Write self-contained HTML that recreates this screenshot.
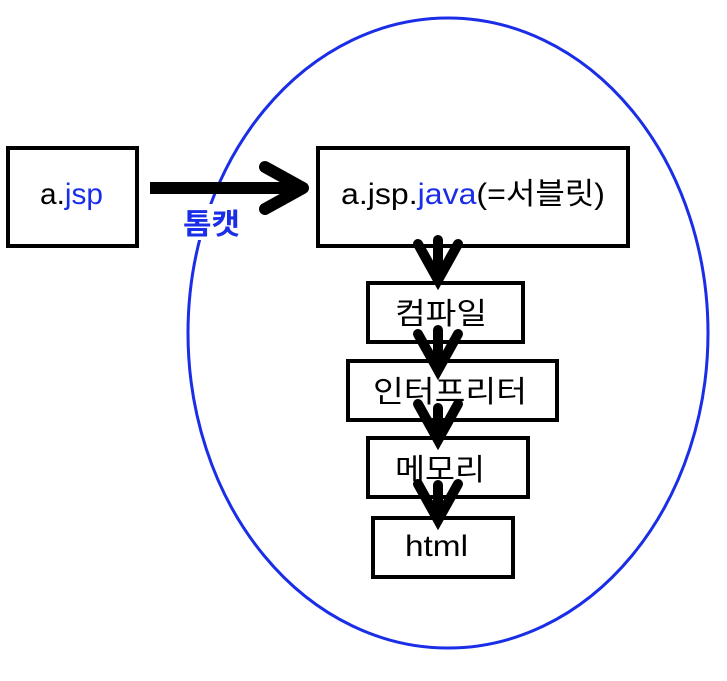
<!DOCTYPE html>
<html><head><meta charset="utf-8"><style>
body{margin:0;background:#fff;width:727px;height:676px;overflow:hidden}
svg text{font-family:"Liberation Sans","Noto Sans CJK KR",sans-serif}
</style></head><body>
<svg width="727" height="676" viewBox="0 0 727 676" xmlns="http://www.w3.org/2000/svg">
<ellipse cx="448" cy="333" rx="260" ry="315" fill="none" stroke="#1a2ee8" stroke-width="3"/>
<rect x="180" y="204" width="64" height="36" fill="#fff"/>
<text x="183" y="234" font-size="29" font-weight="bold" fill="#1a2ee8" textLength="57" lengthAdjust="spacingAndGlyphs">톰캣</text>
<g stroke="#000" stroke-width="4" fill="#fff">
<rect x="8" y="148" width="129" height="98"/>
<rect x="318" y="148" width="310" height="98"/>
<rect x="368" y="283" width="155" height="59"/>
<rect x="348" y="361" width="209" height="59"/>
<rect x="368" y="438" width="160" height="59"/>
<rect x="373" y="518" width="140" height="59"/>
</g>
<g font-size="30" fill="#000">
<text x="40" y="204" textLength="63" lengthAdjust="spacingAndGlyphs">a.<tspan fill="#1a2ee8">jsp</tspan></text>
<text x="341" y="204" textLength="264" lengthAdjust="spacingAndGlyphs">a.jsp.<tspan fill="#1a2ee8">java</tspan>(=서블릿)</text>
<text x="395" y="324" textLength="92" lengthAdjust="spacingAndGlyphs">컴파일</text>
<text x="373" y="402" textLength="154" lengthAdjust="spacingAndGlyphs">인터프리터</text>
<text x="395" y="480" textLength="90" lengthAdjust="spacingAndGlyphs">메모리</text>
<text x="405" y="556" textLength="63" lengthAdjust="spacingAndGlyphs">html</text>
</g>
<g stroke="#000" stroke-width="12" fill="none" stroke-linecap="round" stroke-linejoin="round">
<line x1="150" y1="188" x2="300" y2="188" stroke-linecap="butt"/>
<polyline points="265,167 303,188 265,209"/>
</g>
<g stroke="#000" stroke-width="10" fill="none" stroke-linecap="round" stroke-linejoin="miter">
<line x1="438" y1="240" x2="438" y2="278"/><polyline points="418,244 438,280 458,244"/>
<line x1="438" y1="330" x2="438" y2="368"/><polyline points="418,334 438,370 458,334"/>
<line x1="438" y1="408" x2="438" y2="438"/><polyline points="418,404 438,440 458,404"/>
<line x1="438" y1="485" x2="438" y2="518"/><polyline points="418,484 438,520 458,484"/>
</g>
</svg>
</body></html>
